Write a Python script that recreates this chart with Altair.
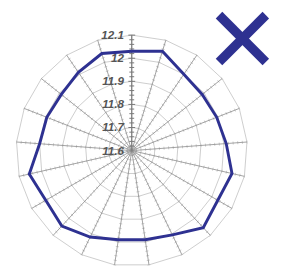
import altair as alt
import pandas as pd

# ---- data ----
spoke_count = 21
series_values = [12.03, 12.05, 12.00, 11.99, 11.995, 12.01, 12.045, 12.03, 12.055, 12.005,
                 11.99, 11.99, 12.015, 12.045, 12.03, 12.055, 12.0, 11.995, 11.99, 12.01, 12.04]
ring_values = [11.7, 11.8, 11.9, 12.0, 12.1]
tick_labels = ["11.6", "11.7", "11.8", "11.9", "12", "12.1"]
label_values = [11.6, 11.7, 11.8, 11.9, 12.0, 12.1]
minor_values = [round(11.62 + 0.02 * i, 2) for i in range(25)]
r_min, r_max = 11.6, 12.1

NAVY = "#2e3191"
R_PX = 119.0
W, H = 273, 261
CX, CY = 127.5, 143.0

xscale = alt.Scale(domain=[-CX / R_PX, (W - CX) / R_PX], zero=False, nice=False)
yscale = alt.Scale(domain=[-(H - CY) / R_PX, CY / R_PX], zero=False, nice=False)


def polar_chart(df):
    return alt.Chart(df).transform_calculate(
        ang=f"datum.k * 2 * PI / {spoke_count}"
    ).transform_calculate(
        r=f"(datum.v - {r_min}) / ({r_max} - {r_min})"
    ).transform_calculate(
        px="datum.r * sin(datum.ang)", py="datum.r * cos(datum.ang)", zx="0", zy="0"
    )


# series (closed loop)
series_df = pd.DataFrame({"k": list(range(spoke_count)) + [spoke_count],
                          "v": series_values + [series_values[0]]})
series_df["order"] = range(len(series_df))

# rings
ring_rows = []
for rv in ring_values:
    for k in range(spoke_count + 1):
        ring_rows.append({"ring": rv, "k": k, "v": rv})
ring_df = pd.DataFrame(ring_rows)

# spokes
spoke_df = pd.DataFrame({"k": list(range(spoke_count)), "v": [r_max] * spoke_count})

# spoke minor ticks
tick_rows = []
for k in range(1, spoke_count):
    for mv in minor_values:
        tick_rows.append({"k": k, "v": mv})
tick_df = pd.DataFrame(tick_rows)

# vertical axis ticks
axis_tick_df = pd.DataFrame({"k": [0] * len(minor_values), "v": minor_values,
                             "major": [1 if abs(m * 10 - round(m * 10)) < 1e-6 else 0 for m in minor_values]})
label_df = pd.DataFrame({"k": [0] * len(label_values), "v": label_values, "label": tick_labels})


def X(f):
    return alt.X(f, type="quantitative", scale=xscale, axis=None)


def Y(f):
    return alt.Y(f, type="quantitative", scale=yscale, axis=None)


rings = polar_chart(ring_df).mark_line(color="#cccccc", strokeWidth=1).encode(
    x=X("px"), y=Y("py"), detail="ring:N", order="k:Q")

spokes = polar_chart(spoke_df).mark_rule(color="#888888", strokeWidth=0.8).encode(
    x=X("zx"), y=Y("zy"), x2=alt.X2("px"), y2=alt.Y2("py"))

h = 1.6 / R_PX
spoke_ticks = polar_chart(tick_df).transform_calculate(
    tx1=f"datum.px - {h} * cos(datum.ang)", ty1=f"datum.py + {h} * sin(datum.ang)",
    tx2=f"datum.px + {h} * cos(datum.ang)", ty2=f"datum.py - {h} * sin(datum.ang)",
).mark_rule(color="#c4c4c4", strokeWidth=0.8).encode(
    x=X("tx1"), y=Y("ty1"), x2=alt.X2("tx2"), y2=alt.Y2("ty2"))

axis_line = polar_chart(spoke_df.iloc[:1]).mark_rule(color="#777777", strokeWidth=1).encode(
    x=X("zx"), y=Y("zy"), x2=alt.X2("px"), y2=alt.Y2("py"))

axis_ticks = polar_chart(axis_tick_df).transform_calculate(
    hl=f"datum.major ? {3.5 / R_PX} : {2.5 / R_PX}"
).transform_calculate(
    tx1="datum.px - datum.hl", tx2="datum.px + datum.hl"
).mark_rule(color="#777777", strokeWidth=1).encode(
    x=X("tx1"), y=Y("py"), x2=alt.X2("tx2"))

labels = polar_chart(label_df).mark_text(
    align="right", baseline="middle", dx=-8, fontSize=12, fontWeight="bold",
    fontStyle="italic", font="Liberation Sans", color="#555555").encode(
    x=X("px"), y=Y("py"), text="label:N")

line = polar_chart(series_df).mark_line(color=NAVY, strokeWidth=3, strokeJoin="miter").encode(
    x=X("px"), y=Y("py"), order="order:Q")

# close icon (decorative "X"), two thick strokes
icon = alt.Chart(pd.DataFrame({"a": [0]}))
arm1 = icon.mark_rule(color=NAVY, strokeWidth=9.5, strokeCap="butt").encode(
    x=alt.value(217.4), y=alt.value(3.4), x2=alt.value(265.6), y2=alt.value(51.6))
arm2 = icon.mark_rule(color=NAVY, strokeWidth=9.5, strokeCap="butt").encode(
    x=alt.value(265.6), y=alt.value(3.4), x2=alt.value(217.4), y2=alt.value(51.6))

chart = alt.layer(rings, spoke_ticks, spokes, axis_line, axis_ticks, labels, line, arm1, arm2).properties(
    width=W, height=H, autosize=alt.AutoSizeParams(type="none"), padding=0
).configure_view(stroke=None)

chart.save("out.html", embed_options={"renderer": "svg", "actions": False})
